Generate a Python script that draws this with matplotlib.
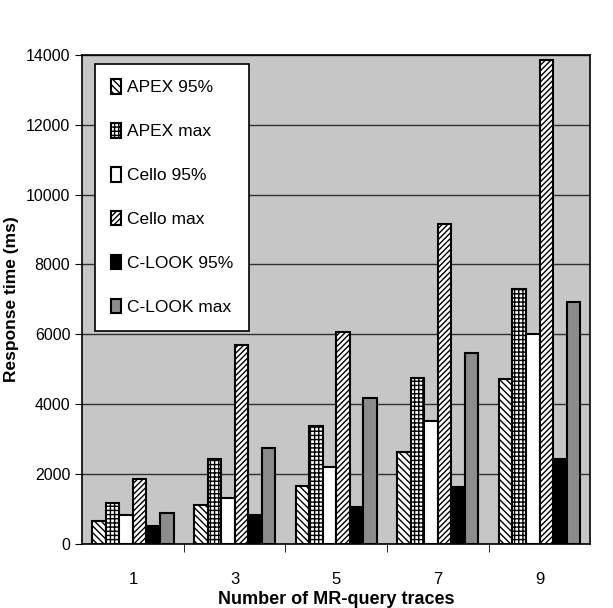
import numpy as np
import matplotlib.pyplot as plt

traces = ['1', '3', '5', '7', '9']
apex_95 = [660, 1110, 1660, 2630, 4710]
apex_max = [1190, 2430, 3370, 4740, 7290]
cello_95 = [820, 1310, 2200, 3510, 6020]
cello_max = [1860, 5690, 6060, 9170, 13860]
clook_95 = [530, 830, 1060, 1630, 2430]
clook_max = [890, 2740, 4170, 5460, 6940]

series = [
    ('APEX 95%', apex_95, 'white', '\\\\\\\\\\'),
    ('APEX max', apex_max, 'white', '++++'),
    ('Cello 95%', cello_95, 'white', ''),
    ('Cello max', cello_max, 'white', '//////'),
    ('C-LOOK 95%', clook_95, 'black', ''),
    ('C-LOOK max', clook_max, '#8c8c8c', ''),
]

plt.rcParams['font.family'] = ['Liberation Sans', 'DejaVu Sans']
plt.rcParams['hatch.linewidth'] = 1.0

fig = plt.figure(figsize=(6.13, 6.08), dpi=100)
ax = fig.add_axes([0.134, 0.105, 0.829, 0.805])
ax.set_facecolor('#c6c6c6')

x = np.arange(len(traces))
w = 0.133
for i, (name, vals, color, hatch) in enumerate(series):
    ax.bar(x + (i - 2.5) * w, vals, w, color=color, hatch=hatch,
           edgecolor='black', linewidth=1.5, label=name, zorder=3)

ax.set_xlim(-0.5, 4.5)
ax.set_ylim(0, 14000)
ax.set_yticks(range(0, 14001, 2000))
ax.yaxis.grid(True, color='#303030', linewidth=1.0, zorder=1)
ax.set_axisbelow(True)

ax.set_xticks(x)
ax.set_xticklabels(traces)
ax.set_xticks(np.arange(0.5, 4.0, 1.0), minor=True)
ax.tick_params(axis='x', which='major', length=0, labelsize=12, pad=20)
ax.tick_params(axis='x', which='minor', length=6, direction='out')
ax.tick_params(axis='y', labelsize=11.5, length=5)

for s in ax.spines.values():
    s.set_linewidth(1.2)

ax.set_ylabel('Response time (ms)', fontsize=12.5, fontweight='bold', labelpad=5)
ax.set_xlabel('Number of MR-query traces', fontsize=13, fontweight='bold', labelpad=3)

leg = ax.legend(loc='upper left', bbox_to_anchor=(0.026, 0.982), fontsize=12.5,
                labelspacing=1.6, handlelength=0.6, handleheight=0.9,
                handletextpad=0.35, borderpad=0.9, borderaxespad=0,
                fancybox=False, framealpha=1, edgecolor='black')
leg.get_frame().set_linewidth(1.2)

fig.savefig('out.png', dpi=100)
